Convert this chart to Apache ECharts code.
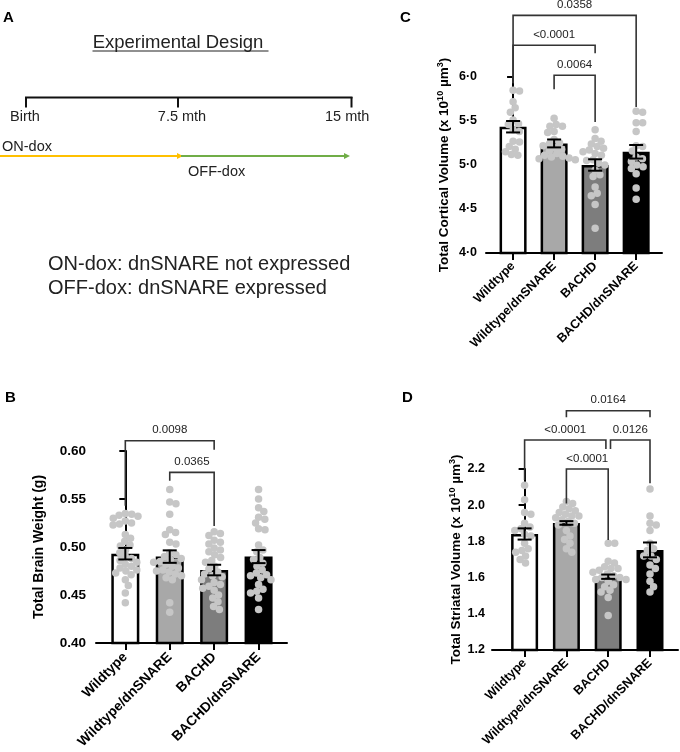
<!DOCTYPE html>
<html><head><meta charset="utf-8">
<script src="https://cdn.jsdelivr.net/npm/echarts@6.0.0/dist/echarts.min.js"></script>
<style>html,body{margin:0;padding:0;background:#fff}#c{width:680px;height:752px}</style>
</head><body><div id="c"></div>
<script>
const FONT = '"Liberation Sans", Arial, Helvetica, sans-serif';

// ---------- data ----------
const categories = ['Wildtype', 'Wildtype/dnSNARE', 'BACHD', 'BACHD/dnSNARE'];

// Panel B: total brain weight (g)
const brainWildtype = [0.535,0.534,0.533,0.532,0.530,0.527,0.525,0.524,0.523,0.513,0.509,0.506,0.502,0.501,0.497,0.494,0.490,0.488,0.486,0.484,0.482,0.480,0.478,0.476,0.475,0.473,0.471,0.466,0.460,0.452,0.442];
const brainWtDn = [0.560,0.547,0.545,0.534,0.518,0.515,0.513,0.505,0.503,0.494,0.492,0.490,0.488,0.487,0.485,0.484,0.482,0.480,0.478,0.476,0.475,0.474,0.472,0.470,0.468,0.466,0.442,0.432];
const brainBachd = [0.516,0.514,0.512,0.507,0.505,0.503,0.499,0.497,0.495,0.492,0.489,0.486,0.484,0.480,0.477,0.474,0.472,0.470,0.469,0.466,0.463,0.461,0.459,0.457,0.455,0.450,0.447,0.443,0.438,0.435];
const brainBachdDn = [0.560,0.550,0.541,0.537,0.531,0.529,0.525,0.519,0.518,0.502,0.497,0.495,0.489,0.487,0.483,0.480,0.476,0.473,0.471,0.470,0.468,0.466,0.461,0.456,0.454,0.452,0.447,0.435];
const brainMeans = [0.493, 0.490, 0.476, 0.490];
const brainSem = [0.006, 0.0065, 0.0055, 0.0068];
const brainTicks = [0.40, 0.45, 0.50, 0.55, 0.60];
const brainPairs = [[0, 2, 0.6107, 0.543, 0.6014], [1, 2, 0.5777, 0.569, 0.522]];
const brainP = ['0.0098', '0.0365'];

// Panel C: total cortical volume (x10^10 µm^3)
const cortWildtype = [5.85,5.84,5.72,5.65,5.60,5.51,5.47,5.46,5.40,5.38,5.27,5.26,5.21,5.18,5.15,5.12,5.11];
const cortWtDn = [5.53,5.46,5.44,5.44,5.38,5.37,5.29,5.25,5.24,5.22,5.20,5.18,5.16,5.13,5.11,5.10,5.09,5.08,5.07,5.06];
const cortBachd = [5.40,5.30,5.27,5.24,5.21,5.19,5.17,5.15,5.13,5.11,5.06,5.05,5.02,5.00,4.94,4.89,4.87,4.75,4.68,4.65,4.55,4.28];
const cortBachdDn = [5.61,5.60,5.48,5.48,5.38,5.22,5.21,5.16,5.09,5.07,5.04,5.00,4.98,4.96,4.90,4.74,4.61];
const cortMeans = [5.435, 5.245, 5.00, 5.15];
const cortSem = [0.065, 0.045, 0.065, 0.077];
const cortTicks = [4.0, 4.5, 5.0, 5.5, 6.0];
const cortPairs = [[0, 3, 6.70, 5.93, 5.66], [0, 2, 6.36, 5.93, 6.27], [1, 2, 6.02, 5.86, 5.49]];
const cortP = ['0.0358', '<0.0001', '0.0064'];

// Panel D: total striatal volume (x10^10 µm^3)
const striWildtype = [2.11,2.03,1.96,1.95,1.90,1.88,1.87,1.86,1.84,1.83,1.79,1.76,1.75,1.74,1.72,1.70,1.68];
const striWtDn = [2.02,2.01,1.99,1.98,1.97,1.96,1.95,1.94,1.94,1.93,1.92,1.91,1.90,1.89,1.86,1.83,1.81,1.79,1.76,1.74];
const striBachd = [1.79,1.79,1.69,1.68,1.66,1.65,1.65,1.64,1.63,1.62,1.61,1.60,1.60,1.59,1.59,1.58,1.56,1.55,1.53,1.52,1.49,1.39];
const striBachdDn = [2.09,1.94,1.90,1.89,1.86,1.79,1.76,1.75,1.72,1.72,1.70,1.67,1.65,1.62,1.58,1.55,1.52];
const striMeans = [1.841, 1.902, 1.605, 1.753];
const striSem = [0.031, 0.010, 0.012, 0.041];
const striTicks = [1.2, 1.4, 1.6, 1.8, 2.0, 2.2];
const striPairs = [[1, 3, 2.522, 2.486, 2.486], [0, 1.945, 2.36, 2.139, 2.31], [2.055, 3, 2.36, 2.31, 2.121], [1, 2, 2.20, 2.01, 1.808]];
const striP = ['0.0164', '<0.0001', '0.0126', '<0.0001'];

// Panel A text
const timelineLabels = ['Birth', '7.5 mth', '15 mth'];
const designNotes = ['ON-dox: dnSNARE not expressed', 'OFF-dox: dnSNARE expressed'];

// ---------- layout ----------
const barColors = ['#ffffff', '#a8a8a8', '#7d7d7d', '#000000'];
const panels = [
  { grid: { left: 96, top: 451, width: 191, height: 192 }, xMin: -0.66, xMax: 3.64,
    groups: [brainWildtype, brainWtDn, brainBachd, brainBachdDn], means: brainMeans, sems: brainSem,
    ticks: brainTicks, pairs: brainPairs, pLabels: brainP, fmt: v => v.toFixed(2), barW: 28,
    tickFont: 13.5, labMargin: 10, catFont: 13.8, catMargin: 12, nameFont: 14, nameGap: 48,
    name: '{t|Total Brain Weight (g)}' },
  { grid: { left: 486, top: 77, width: 176, height: 176 }, xMin: -0.66, xMax: 3.63,
    groups: [cortWildtype, cortWtDn, cortBachd, cortBachdDn], means: cortMeans, sems: cortSem,
    ticks: cortTicks, pairs: cortPairs, pLabels: cortP, fmt: v => v.toFixed(1).replace('.', '\u00b7'), barW: 27,
    tickFont: 12.5, labMargin: 9, catFont: 12.6, catMargin: 11, nameFont: 13.5, nameGap: 33,
    name: '{t|Total Cortical Volume (x 10}{s|10}{t| µm}{s|3}{t|)}' },
  { grid: { left: 492, top: 469, width: 186, height: 181 }, xMin: -0.78, xMax: 3.67,
    groups: [striWildtype, striWtDn, striBachd, striBachdDn], means: striMeans, sems: striSem,
    ticks: striTicks, pairs: striPairs, pLabels: striP, fmt: v => v.toFixed(1), barW: 27,
    tickFont: 12.5, labMargin: 7, catFont: 12.6, catMargin: 11, nameFont: 13.5, nameGap: 27,
    name: '{t|Total Striatal Volume (x 10}{s|10}{t| µm}{s|3}{t|)}' }
];

function swarm(values, center, pxX, pxY, d) {
  const order = values.map((v, i) => i).sort((a, b) => values[b] - values[a]);
  const placed = [], out = [];
  for (const i of order) {
    const y = values[i] * pxY;
    const cands = [0];
    for (const p of placed) {
      const dy = Math.abs(p.y - y);
      if (dy < d) { const dx = Math.sqrt(d * d - dy * dy); cands.push(p.x + dx, p.x - dx); }
    }
    cands.sort((a, b) => Math.abs(a) - Math.abs(b));
    let x = 0;
    for (const c of cands) {
      if (placed.every(p => (p.x - c) ** 2 + (p.y - y) ** 2 >= d * d - 1e-6)) { x = c; break; }
    }
    placed.push({ x, y });
    out.push([center + x / pxX, values[i]]);
  }
  return out;
}

const grids = [], xAxes = [], yAxes = [], series = [], graphics = [];
panels.forEach((P, k) => {
  const yMin = P.ticks[0], yMax = P.ticks[P.ticks.length - 1];
  const interval = P.ticks[1] - P.ticks[0];
  grids.push(Object.assign({ containLabel: false }, P.grid));
  xAxes.push({
    gridIndex: k, type: 'value', min: P.xMin, max: P.xMax,
    axisLine: { show: true, lineStyle: { color: '#000', width: 2 } },
    axisTick: { show: true, customValues: [0, 1, 2, 3], length: 7, lineStyle: { color: '#000', width: 2 } },
    axisLabel: { customValues: [0, 1, 2, 3], formatter: v => categories[Math.round(v)], rotate: 45, margin: P.catMargin,
      fontFamily: FONT, fontWeight: 'bold', fontSize: P.catFont, color: '#000' },
    splitLine: { show: false }
  });
  yAxes.push({
    gridIndex: k, type: 'value', min: yMin, max: yMax, interval: interval,
    axisLine: { show: true, lineStyle: { color: '#000', width: 2 } },
    axisTick: { show: true, length: 6, lineStyle: { color: '#000', width: 2 } },
    axisLabel: { formatter: P.fmt, margin: P.labMargin, fontFamily: FONT, fontWeight: 'bold', fontSize: P.tickFont, color: '#000' },
    splitLine: { show: false },
    name: P.name, nameLocation: 'middle', nameGap: P.nameGap, nameRotate: 90,
    nameTextStyle: { rich: {
      t: { fontFamily: FONT, fontWeight: 'bold', fontSize: P.nameFont, color: '#000', lineHeight: 17 },
      s: { fontFamily: FONT, fontWeight: 'bold', fontSize: 9, color: '#000', lineHeight: 10, verticalAlign: 'top' }
    } }
  });
  const pxX = P.grid.width / (P.xMax - P.xMin);
  const pxY = P.grid.height / (yMax - yMin);
  // bars
  series.push({
    type: 'custom', xAxisIndex: k, yAxisIndex: k, z: 1, clip: false,
    data: P.means.map((m, i) => [i, m]),
    renderItem: (params, api) => {
      const i = api.value(0), m = api.value(1);
      const base = api.coord([i, yMin]), top = api.coord([i, m]);
      const w = P.barW - 2.5;
      return { type: 'rect', shape: { x: top[0] - w / 2, y: top[1] + 1.25, width: w, height: base[1] - top[1] - 1.25 },
        style: { fill: barColors[params.dataIndex], stroke: '#000', lineWidth: 2.5 } };
    }
  });
  // points
  P.groups.forEach((vals, gi) => {
    series.push({
      type: 'scatter', xAxisIndex: k, yAxisIndex: k, z: 2, symbolSize: 7.5,
      itemStyle: { color: '#c6c6c6', opacity: 1 }, emphasis: { disabled: true },
      data: swarm(vals, gi, pxX, pxY, 6.5)
    });
  });
  // error bars
  series.push({
    type: 'custom', xAxisIndex: k, yAxisIndex: k, z: 3, clip: false,
    data: P.means.map((m, i) => [i, m, P.sems[i]]),
    renderItem: (params, api) => {
      const i = api.value(0), m = api.value(1), s = api.value(2);
      const hi = api.coord([i, m + s]), lo = api.coord([i, m - s]);
      const c = 7;
      const st = { stroke: '#000', lineWidth: 2, fill: null };
      return { type: 'group', children: [
        { type: 'line', shape: { x1: hi[0], y1: hi[1], x2: lo[0], y2: lo[1] }, style: st },
        { type: 'line', shape: { x1: hi[0] - c, y1: hi[1], x2: hi[0] + c, y2: hi[1] }, style: st },
        { type: 'line', shape: { x1: lo[0] - c, y1: lo[1], x2: lo[0] + c, y2: lo[1] }, style: st }
      ] };
    }
  });
  // significance brackets
  series.push({
    type: 'custom', xAxisIndex: k, yAxisIndex: k, z: 4, clip: false,
    data: P.pairs.map(p => [p[0], p[2], p[1], p[3], p[4]]),
    renderItem: (params, api) => {
      const x1 = api.value(0), top = api.value(1), x2 = api.value(2), yl = api.value(3), yr = api.value(4);
      const a = api.coord([x1, yl]), b = api.coord([x1, top]), c = api.coord([x2, top]), d = api.coord([x2, yr]);
      return { type: 'group', children: [
        { type: 'polyline', shape: { points: [a, b, c, d] }, style: { stroke: '#333', lineWidth: 1.6, fill: null } },
        { type: 'text', style: { text: P.pLabels[params.dataIndex], x: (b[0] + c[0]) / 2, y: b[1] - 10.5,
          textAlign: 'center', textVerticalAlign: 'middle', align: 'center', verticalAlign: 'middle',
          font: '11.5px ' + FONT, fill: '#222' } }
      ] };
    }
  });
});

// panel letters
const letters = [['A', 3, 18], ['B', 5, 398], ['C', 400, 18], ['D', 402, 398]];
letters.forEach(l => graphics.push({ type: 'text', style: { text: l[0], x: l[1], y: l[2], font: 'bold 15px ' + FONT, fill: '#000',
  textVerticalAlign: 'middle', verticalAlign: 'middle' } }));

// panel A
const mid = { textVerticalAlign: 'middle', verticalAlign: 'middle' };
graphics.push(
  { type: 'text', style: Object.assign({ text: 'Experimental Design', x: 178, y: 43, font: '18.5px ' + FONT, fill: '#222',
    textAlign: 'center', align: 'center' }, mid) },
  { type: 'line', shape: { x1: 92.5, y1: 51, x2: 268.5, y2: 51 }, style: { stroke: '#222', lineWidth: 1.2 } },
  { type: 'line', shape: { x1: 25, y1: 97.5, x2: 352.5, y2: 97.5 }, style: { stroke: '#111', lineWidth: 2 } },
  { type: 'line', shape: { x1: 26, y1: 97, x2: 26, y2: 107.5 }, style: { stroke: '#111', lineWidth: 2 } },
  { type: 'line', shape: { x1: 178, y1: 97, x2: 178, y2: 107.5 }, style: { stroke: '#111', lineWidth: 2 } },
  { type: 'line', shape: { x1: 351.5, y1: 97, x2: 351.5, y2: 107.5 }, style: { stroke: '#111', lineWidth: 2 } },
  { type: 'text', style: Object.assign({ text: timelineLabels[0], x: 10, y: 117, font: '14.5px ' + FONT, fill: '#222' }, mid) },
  { type: 'text', style: Object.assign({ text: timelineLabels[1], x: 182, y: 117, font: '14.5px ' + FONT, fill: '#222', textAlign: 'center', align: 'center' }, mid) },
  { type: 'text', style: Object.assign({ text: timelineLabels[2], x: 325, y: 117, font: '14.5px ' + FONT, fill: '#222' }, mid) },
  { type: 'text', style: Object.assign({ text: 'ON-dox', x: 2, y: 147, font: '14.5px ' + FONT, fill: '#222' }, mid) },
  { type: 'line', shape: { x1: 0, y1: 156, x2: 178, y2: 156 }, style: { stroke: '#FFC000', lineWidth: 2 } },
  { type: 'polygon', shape: { points: [[177, 153], [183, 156], [177, 159]] }, style: { fill: '#FFC000' } },
  { type: 'line', shape: { x1: 181, y1: 156, x2: 345, y2: 156 }, style: { stroke: '#70AD47', lineWidth: 2 } },
  { type: 'polygon', shape: { points: [[344, 153], [350, 156], [344, 159]] }, style: { fill: '#70AD47' } },
  { type: 'text', style: Object.assign({ text: 'OFF-dox', x: 188, y: 172, font: '14.5px ' + FONT, fill: '#222' }, mid) },
  { type: 'text', style: Object.assign({ text: designNotes[0], x: 48, y: 264, font: '20px ' + FONT, fill: '#222' }, mid) },
  { type: 'text', style: Object.assign({ text: designNotes[1], x: 48, y: 288, font: '20px ' + FONT, fill: '#222' }, mid) }
);

const chart = echarts.init(document.getElementById('c'), null, { renderer: 'canvas' });
chart.setOption({
  backgroundColor: '#fff',
  animation: false,
  textStyle: { fontFamily: FONT },
  grid: grids, xAxis: xAxes, yAxis: yAxes, series: series,
  graphic: { elements: graphics }
});
</script></body></html>
